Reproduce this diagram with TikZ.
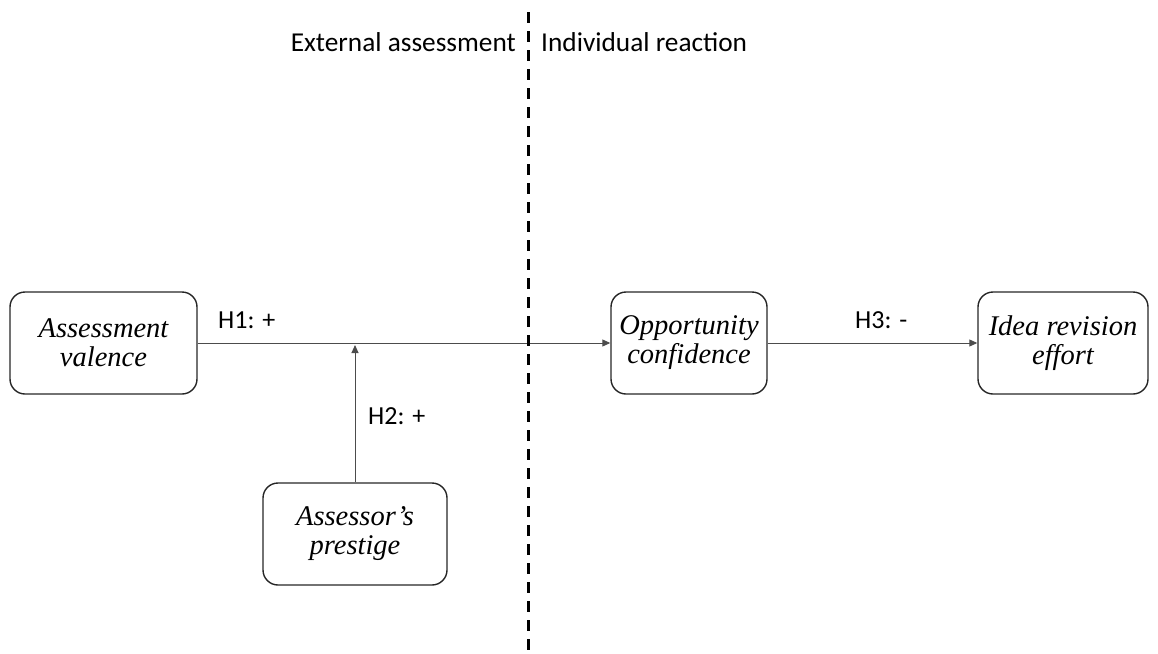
\documentclass[tikz,border=0pt]{standalone}
\usepackage{fontspec}
\setmainfont{Liberation Serif}
\newfontfamily\calib{Carlito}
\usetikzlibrary{arrows.meta}
\begin{document}
\begin{tikzpicture}[x=1pt,y=-1pt,
  box/.style={draw=black!85,line width=1.4pt,rounded corners=15pt,minimum height=102pt,align=center,font=\fontsize{28.5}{29}\selectfont\itshape,inner sep=0pt},
  conn/.style={draw=black!70,line width=0.9pt,-{Triangle[length=8pt,width=7pt]}},
  lab/.style={font=\calib\fontsize{26}{28}\selectfont,inner sep=0pt},
  head/.style={font=\calib\fontsize{27.3}{30}\selectfont,inner sep=0pt}]
\useasboundingbox (0,0) rectangle (1158,653);
\node[box,minimum width=187pt] (av) at (103.5,343) {Assessment\\valence};
\node[box,minimum width=156pt] (oc) at (689,343) {Opportunity\\confidence};
\node[box,minimum width=170pt] (ir) at (1063,343) {Idea revision\\effort};
\node[box,minimum width=184pt] (ap) at (355,534) {Assessor's\\prestige};
\coordinate (mid) at (355,345);
\draw[conn] (av.east) -- (oc.west);
\draw[conn] (oc.east) -- (ir.west);
\draw[conn] (ap.north) -- (mid);
\node[lab,anchor=west] (h1) at (218,320) {H1: +};
\node[lab,anchor=west] (h2) at (368,416) {H2: +};
\node[lab,anchor=west] (h3) at (855,320) {H3: -};
\coordinate (dtop) at (528,12);
\coordinate (dbot) at (528,653);
\draw[line width=3pt,dash pattern=on 11pt off 8pt] (dtop) -- (dbot);
\node[head,anchor=east] (ext) at (516,42) {External assessment};
\node[head,anchor=west] (ind) at (541,42) {Individual reaction};
\end{tikzpicture}
\end{document}
